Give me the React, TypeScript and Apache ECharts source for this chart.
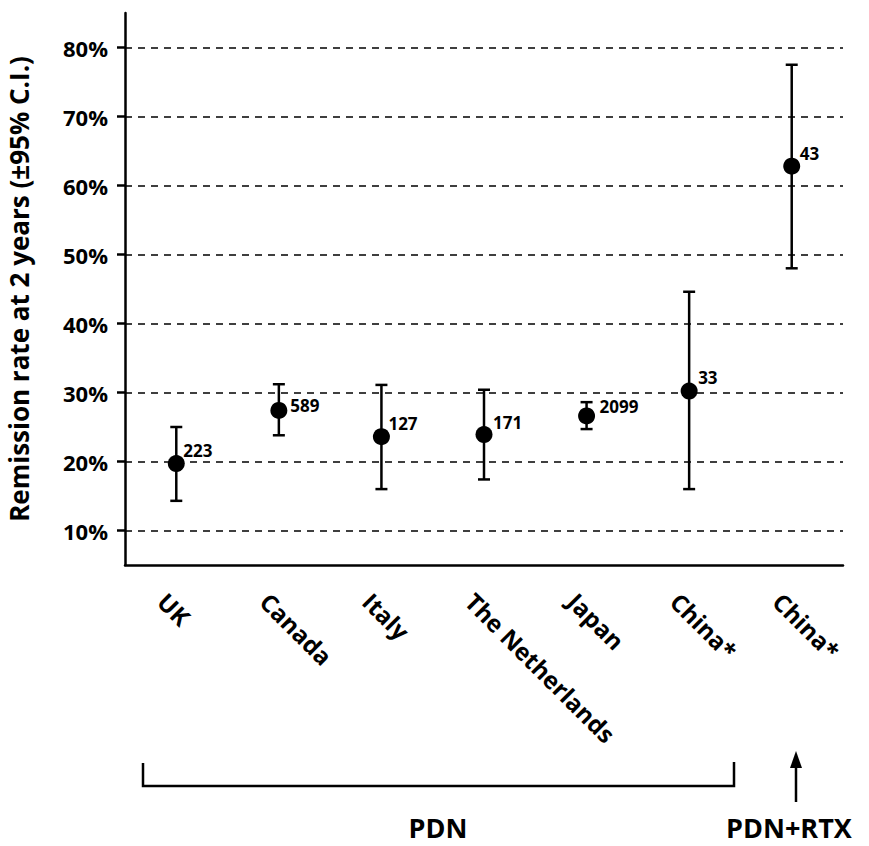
import React, { useEffect, useRef } from "react";
import * as echarts from "echarts";

const categories = ["UK", "Canada", "Italy", "The Netherlands", "Japan", "China*", "China*"];
const remissionRate = [19.7, 27.4, 23.6, 23.9, 26.6, 30.2, 62.8];
const ciLow = [14.3, 23.8, 16.0, 17.4, 24.7, 16.0, 48.0];
const ciHigh = [25.0, 31.2, 31.1, 30.4, 28.6, 44.6, 77.5];
const sampleSize = [223, 589, 127, 171, 2099, 33, 43];
const yTickValues = [10, 20, 30, 40, 50, 60, 70, 80];

// label nudges (style only)
const labelShift = [[-1.5, -13], [3, -5], [-1.5, -13], [0.5, -12], [4.5, -9], [0.5, -14], [-0.5, -13]];

const FONT = "'Open Sans', 'Noto Sans', sans-serif";

export default function App() {
  const ref = useRef<HTMLDivElement>(null);
  useEffect(() => {
    if (!ref.current) return;
    const chart = echarts.init(ref.current, null, { renderer: "svg" });
    const errData = categories.map((_, i) => [i, ciLow[i], ciHigh[i]]);
    const pointData = categories.map((_, i) => ({
      value: [i, remissionRate[i]],
      n: sampleSize[i],
      label: { offset: labelShift[i] },
    }));
    const option: any = {
      animation: false,
      backgroundColor: "#fff",
      textStyle: { fontFamily: FONT },
      grid: { left: 125, top: 13, right: 26, bottom: 281, outerBoundsMode: "none" },
      xAxis: {
        type: "category",
        data: categories,
        boundaryGap: true,
        axisLine: { lineStyle: { color: "#000", width: 2.5 } },
        axisTick: { alignWithLabel: true, length: 9, lineStyle: { color: "#000", width: 2.5 } },
        axisLabel: {
          interval: 0,
          rotate: -45,
          align: "left",
          verticalAlign: "top",
          lineHeight: 40,
          margin: 18,
          fontSize: 24,
          fontWeight: "bold",
          color: "#000",
          fontFamily: FONT,
        },
        splitLine: { show: false },
      },
      yAxis: {
        type: "value",
        min: 5,
        max: 85,
        name: "Remission rate at 2 years (±95% C.I.)",
        nameLocation: "middle",
        nameRotate: 90,
        nameGap: 93,
        nameTextStyle: { fontSize: 26, fontWeight: "bold", color: "#000", fontFamily: FONT },
        axisLine: { show: true, lineStyle: { color: "#000", width: 2.5 } },
        axisTick: { show: true, length: 8, customValues: yTickValues, lineStyle: { color: "#000", width: 2.5 } },
        axisLabel: {
          customValues: yTickValues,
          formatter: (v: number) => v + "%",
          margin: 17,
          fontSize: 22,
          fontWeight: "bold",
          color: "#000",
          fontFamily: FONT,
        },
        splitLine: { show: false },
      },
      series: [
        {
          type: "custom",
          name: "95% CI",
          data: errData,
          encode: { x: 0, y: [1, 2] },
          z: 2,
          renderItem: (params: any, api: any) => {
            const x = api.value(0);
            const hi = api.coord([x, api.value(2)]);
            const lo = api.coord([x, api.value(1)]);
            const hw = 6;
            const st = { stroke: "#000", lineWidth: 2.5 };
            return {
              type: "group",
              children: [
                { type: "line", shape: { x1: hi[0], y1: hi[1], x2: lo[0], y2: lo[1] }, style: st },
                { type: "line", shape: { x1: hi[0] - hw, y1: hi[1], x2: hi[0] + hw, y2: hi[1] }, style: st },
                { type: "line", shape: { x1: lo[0] - hw, y1: lo[1], x2: lo[0] + hw, y2: lo[1] }, style: st },
              ],
            };
          },
          markLine: {
            silent: true,
            symbol: "none",
            label: { show: false },
            lineStyle: { color: "#000", type: [7, 6], width: 1.5 },
            data: yTickValues.map((v) => ({ yAxis: v })),
            z: 1,
          },
        },
        {
          type: "scatter",
          name: "Remission rate",
          data: pointData,
          symbol: "circle",
          symbolSize: 17,
          itemStyle: { color: "#000", opacity: 1 },
          z: 3,
          label: {
            show: true,
            position: "right",
            distance: 0,
            formatter: (p: any) => String(p.data.n),
            fontSize: 17,
            fontWeight: "bold",
            color: "#000",
            fontFamily: FONT,
          },
        },
      ],
      graphic: [
        {
          type: "polyline",
          shape: { points: [[143, 763], [143, 786], [734, 786], [734, 762]] },
          style: { stroke: "#000", lineWidth: 2.5, fill: null },
        },
        {
          type: "line",
          shape: { x1: 796, y1: 765, x2: 796, y2: 802 },
          style: { stroke: "#000", lineWidth: 2.5 },
        },
        {
          type: "polygon",
          shape: { points: [[796, 751], [790, 768], [802, 768]] },
          style: { fill: "#000" },
        },
        {
          type: "text",
          x: 438,
          y: 827,
          style: { text: "PDN", fontSize: 27, lineHeight: 27, fontWeight: "bold", fill: "#000", fontFamily: FONT, textAlign: "center", textVerticalAlign: "middle" },
        },
        {
          type: "text",
          x: 726,
          y: 827,
          style: { text: "PDN+RTX", fontSize: 27, lineHeight: 27, fontWeight: "bold", fill: "#000", fontFamily: FONT, textAlign: "left", textVerticalAlign: "middle" },
        },
      ],
    };
    chart.setOption(option);
    return () => chart.dispose();
  }, []);
  return <div ref={ref} style={{ position: "absolute", left: 0, top: 0, width: 869, height: 846 }} />;
}
